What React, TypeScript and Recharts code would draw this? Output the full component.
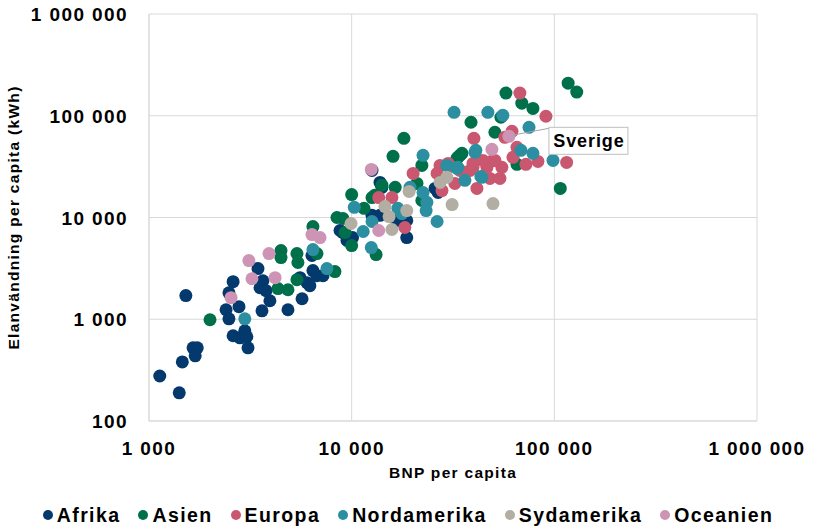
import React from 'react';
import { ScatterChart, Scatter, XAxis, YAxis, CartesianGrid } from 'recharts';

// [BNP per capita, elanvändning per capita (kWh)]
const afrika: [number, number][] = [
    [1130, 277], [1410, 189], [1520, 1710], [1460, 381], [1650, 524], [1730, 524], [1690, 437],
    [2600, 2340], [2480, 1820], [2400, 1240], [2480, 1010], [2780, 1330], [2600, 688], [2810, 657],
    [2970, 770], [3040, 673], [3080, 524], [3450, 3150], [3650, 2390], [3530, 2040], [3780, 1910],
    [3950, 1520], [3610, 1210], [4850, 1240], [5690, 1590], [5560, 2560], [6020, 2290], [6220, 2140],
    [6440, 3010], [6740, 2680], [7220, 2680], [6370, 4230], [9060, 7110], [9480, 5940], [10100, 6350],
    [8760, 7450], [13800, 22100], [14100, 19800], [12600, 10500], [13800, 10500], [16700, 9340],
    [18700, 9340], [18700, 6350], [26700, 17600], [25800, 19300], [12600, 29000],
];

const asien: [number, number][] = [
    [2000, 989], [4480, 4730], [4480, 4040], [5370, 4420], [5430, 3610], [4330, 2000], [4850, 1950],
    [5370, 2450], [8270, 2940], [6740, 4420], [6440, 8150], [9270, 7110], [10000, 5300], [16000, 39900],
    [22200, 32500], [33400, 39000], [35000, 42700], [21000, 21600], [22200, 14700], [10000, 16800],
    [12600, 15700], [13000, 16500], [11500, 12300], [8460, 10000], [9060, 9780], [13200, 4320],
    [117000, 209000], [129000, 171000], [57700, 167000], [69100, 133000], [78400, 118000],
    [54500, 96700], [38800, 86300], [50900, 68800], [65400, 33300], [107000, 19300], [34200, 40800],
    [33100, 38100], [18100, 60000], [14100, 20800], [16400, 19800],
];

const europa: [number, number][] = [
    [20100, 27100], [27300, 32500], [29900, 34000], [39700, 31100], [46500, 34000], [49800, 36400],
    [41500, 19300], [48100, 24200], [26400, 27100], [27900, 18400], [13600, 15700], [15800, 15700],
    [18300, 7970], [67600, 167000], [90900, 98900], [61800, 70300], [57000, 61400], [40100, 60000],
    [65400, 49000], [62500, 39000], [72400, 33300], [83000, 35600], [115000, 34800], [53900, 24200],
    [46500, 31100], [55100, 31100], [44400, 36400], [39700, 34000], [50900, 36400], [38400, 29000],
    [34200, 29000], [30600, 31800], [32300, 21600],
];

const nordamerika: [number, number][] = [
    [2970, 1010], [6440, 4840], [7550, 3150], [22500, 40800], [29500, 32500], [33100, 30400],
    [40600, 43700], [43900, 24800], [36200, 23200], [19400, 19800], [22500, 17600], [23500, 14100],
    [23300, 11700], [26400, 9140], [10300, 12600], [16900, 12300], [17700, 10900], [12600, 9140],
    [11400, 7280], [12500, 5060], [32000, 108000], [47000, 108000], [55700, 101000], [75000, 77000],
    [41000, 45700], [68400, 45700], [78400, 42700], [98500, 36400], [33400, 31100], [43400, 25300],
];

const sydamerika: [number, number][] = [
    [29500, 24800], [27300, 22100], [19200, 18000], [31300, 13400], [49800, 13700], [14600, 12800],
    [18700, 11700], [15300, 10200], [9930, 8730], [15800, 7620],
];

const oceanien: [number, number][] = [
    [3110, 3770], [3910, 4420], [3220, 2500], [4190, 2560], [2540, 1630], [6370, 6800], [6980, 6350],
    [12500, 29700], [13600, 7450], [59700, 62800], [49200, 46800],
];

const sverige: [number, number][] = [[59700, 62800]];

const xTicks = [1000, 10000, 100000, 1000000];
const yTicks = [100, 1000, 10000, 100000, 1000000];

const FONT = '"Liberation Sans", Arial, sans-serif';
const GRID = '#D9D9D9';

const series = [
    { name: 'Afrika', data: afrika, color: '#03396C' },
    { name: 'Asien', data: asien, color: '#00704A' },
    { name: 'Europa', data: europa, color: '#C9576F' },
    { name: 'Nordamerika', data: nordamerika, color: '#2B8FA1' },
    { name: 'Sydamerika', data: sydamerika, color: '#B2AEA3' },
    { name: 'Oceanien', data: oceanien, color: '#CD94B6' },
];

const fmt = (v: number) => String(v).replace(/\B(?=(\d{3})+(?!\d))/g, ' ');
const toPoints = (arr: [number, number][]) => arr.map(([x, y]) => ({ x, y }));

const dot = (color: string) => (p: any) => <circle cx={p.cx} cy={p.cy} r={6.5} fill={color} />;

const XTick = (p: any) => (
    <text x={p.x} y={p.y} dy={34} textAnchor="middle" fontFamily={FONT} fontWeight="bold" fontSize={19} letterSpacing={1.4} fill="#000">
        {fmt(p.payload.value)}
    </text>
);

const YTick = (p: any) => (
    <text x={p.x} y={p.y} dy={7} textAnchor="end" fontFamily={FONT} fontWeight="bold" fontSize={19} letterSpacing={1.4} fill="#000">
        {fmt(p.payload.value)}
    </text>
);

const SverigeLabel = (p: any) => {
    const bx = p.cx + 40;
    const by = p.cy - 9;
    return (
        <g>
            <line x1={p.cx + 3} y1={p.cy - 1} x2={bx} y2={by + 1} stroke="#A6A6A6" strokeWidth={1} />
            <rect x={bx} y={by} width={79} height={27} fill="#fff" stroke="#BFBFBF" strokeWidth={1} />
            <text x={bx + 40} y={by + 20} textAnchor="middle" fontFamily={FONT} fontWeight="bold" fontSize={18} letterSpacing={0.9} fill="#000">
                Sverige
            </text>
        </g>
    );
};

export default function App() {
    return (
        <div style={{ position: 'absolute', left: 0, top: 0, width: 816, height: 527, background: '#fff' }}>
            <ScatterChart width={816} height={527} margin={{ top: 14, right: 59, bottom: 0, left: 0 }}>
                <CartesianGrid stroke={GRID} strokeWidth={1} />
                <XAxis
                    type="number"
                    dataKey="x"
                    scale="log"
                    domain={[1000, 1000000]}
                    ticks={xTicks}
                    allowDataOverflow
                    height={106}
                    tickSize={0}
                    tickMargin={0}
                    tickLine={false}
                    axisLine={{ stroke: GRID }}
                    tick={<XTick />}
                    interval={0}
                />
                <YAxis
                    type="number"
                    dataKey="y"
                    scale="log"
                    domain={[100, 1000000]}
                    ticks={yTicks}
                    allowDataOverflow
                    width={149}
                    tickSize={0}
                    tickMargin={21}
                    tickLine={false}
                    axisLine={{ stroke: GRID }}
                    tick={<YTick />}
                    interval={0}
                />
                {series.map((s) => (
                    <Scatter key={s.name} name={s.name} data={toPoints(s.data)} shape={dot(s.color)} isAnimationActive={false} />
                ))}
                <Scatter name="Sverige" data={toPoints(sverige)} shape={SverigeLabel} isAnimationActive={false} />
            </ScatterChart>

            <svg width={816} height={527} style={{ position: 'absolute', left: 0, top: 0, pointerEvents: 'none' }}>
                <text x={453} y={478} textAnchor="middle" fontFamily={FONT} fontWeight="bold" fontSize={15.5} letterSpacing={1.3} fill="#000">
                    BNP per capita
                </text>
                <text x={19} y={217.5} transform="rotate(-90 19 217.5)" textAnchor="middle" fontFamily={FONT} fontWeight="bold" fontSize={15.5} letterSpacing={1.3} fill="#000">
                    Elanvändning per capita (kWh)
                </text>
            </svg>

            <div
                style={{
                    position: 'absolute',
                    left: 0,
                    top: 502,
                    width: 816,
                    display: 'flex',
                    justifyContent: 'center',
                    gap: 18,
                    fontFamily: FONT,
                    fontWeight: 'bold',
                    fontSize: 19.5,
                    letterSpacing: 1.4,
                    lineHeight: '26px',
                    color: '#000',
                }}
            >
                {series.map((s) => (
                    <div key={s.name} style={{ display: 'flex', alignItems: 'center' }}>
                        <span style={{ width: 10, height: 10, borderRadius: '50%', background: s.color, marginRight: 4 }} />
                        <span>{s.name}</span>
                    </div>
                ))}
            </div>
        </div>
    );
}
